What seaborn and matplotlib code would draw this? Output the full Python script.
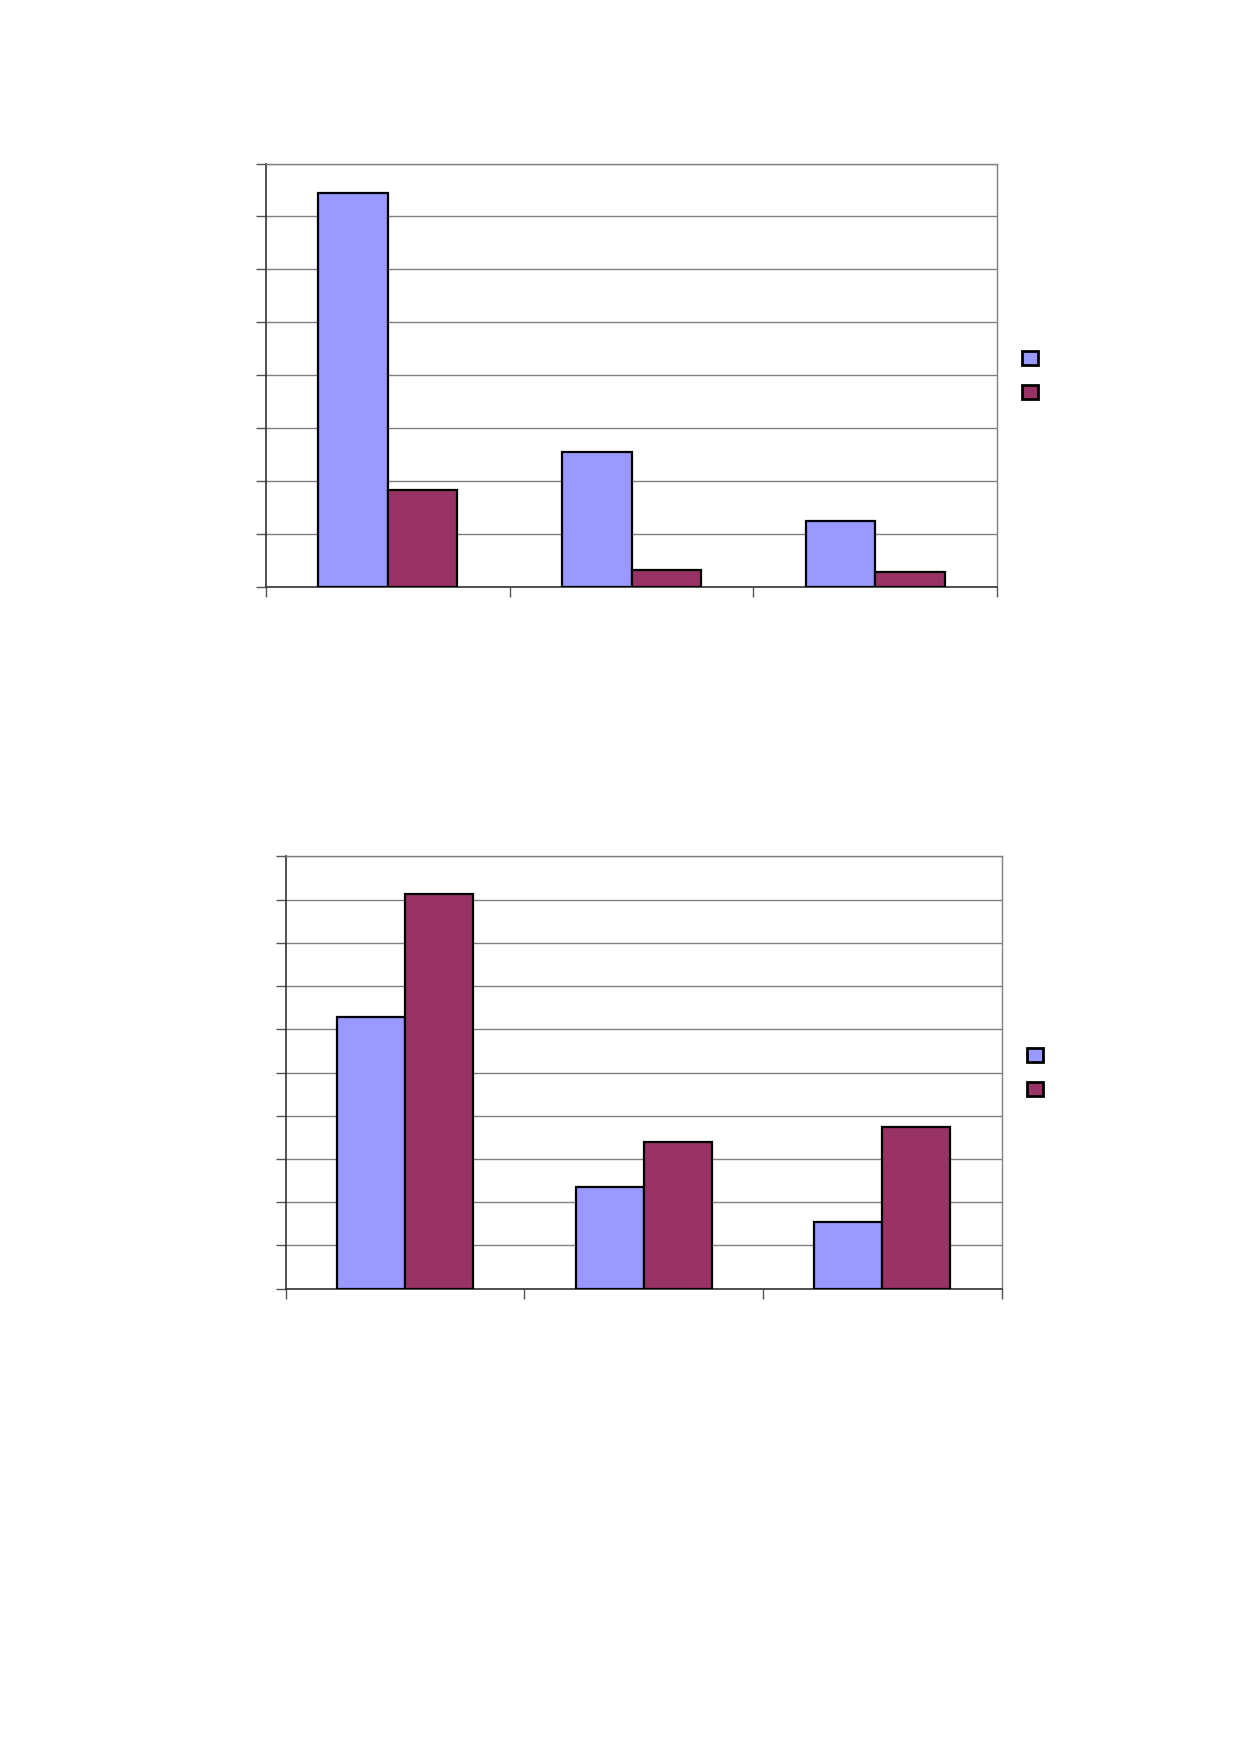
import pandas as pd
import seaborn as sns
import matplotlib.pyplot as plt
from matplotlib.patches import Patch

# categories and series (no text shown in the original)
categories = ["A", "B", "C"]
series = ["Serie 1", "Serie 2"]

top_s1 = [7.45, 2.55, 1.23]
top_s2 = [1.82, 0.32, 0.27]

bot_s1 = [6.29, 2.34, 1.53]
bot_s2 = [9.14, 3.40, 3.74]

colors = ["#9999FF", "#993366"]

sns.set_style("white")

fig = plt.figure(figsize=(12.39, 17.54), dpi=100)


def long_df(s1, s2):
    return pd.DataFrame({
        "cat": categories * 2,
        "serie": [series[0]] * 3 + [series[1]] * 3,
        "val": s1 + s2,
    })


def draw(ax, s1, s2, ymax, leg_xy):
    df = long_df(s1, s2)
    sns.barplot(data=df, x="cat", y="val", hue="serie", palette=colors,
                width=0.57, gap=0, edgecolor="black", linewidth=1.6,
                legend=False, ax=ax, saturation=1, zorder=3)
    ax.set_ylim(0, ymax)
    ax.set_xlim(-0.5, 2.5)
    ax.set_yticks(range(0, ymax + 1))
    ax.set_xticks([-0.5, 0.5, 1.5, 2.5])
    ax.set_yticklabels([])
    ax.set_xticklabels([])
    ax.set_xlabel("")
    ax.set_ylabel("")
    ax.yaxis.grid(True, color="#808080", linewidth=1, zorder=0)
    ax.set_axisbelow(True)
    ax.tick_params(axis="both", direction="out", length=7, width=1,
                   color="#555555", left=True, bottom=True)
    for s in ["left", "bottom"]:
        ax.spines[s].set_color("#333333")
        ax.spines[s].set_linewidth(1.2)
    for s in ["top", "right"]:
        ax.spines[s].set_color("#808080")
        ax.spines[s].set_linewidth(1)
    handles = [Patch(facecolor=c, edgecolor="black", linewidth=2) for c in colors]
    fig.legend(handles, ["", ""], loc="upper left", bbox_to_anchor=leg_xy,
               frameon=False, borderpad=0, borderaxespad=0, handlelength=1.15,
               handleheight=1.15, labelspacing=1.4, fontsize=10, handletextpad=0)


ax1 = fig.add_axes([266 / 1239, 1 - 586.5 / 1754, 731 / 1239, 423 / 1754])
draw(ax1, top_s1, top_s2, 8, (1022 / 1239, 1 - 351 / 1754))

ax2 = fig.add_axes([285.7 / 1239, 1 - 1288.5 / 1754, 716 / 1239, 432 / 1754])
draw(ax2, bot_s1, bot_s2, 10, (1027 / 1239, 1 - 1048 / 1754))

fig.savefig("out.png", dpi=100)
